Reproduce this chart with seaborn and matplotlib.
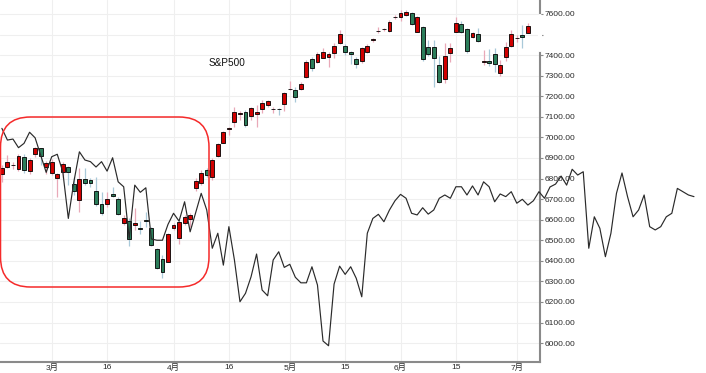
import matplotlib
matplotlib.use('Agg')
import matplotlib.pyplot as plt
import seaborn as sns
import pandas as pd
from matplotlib.patches import FancyBboxPatch

# S&P500 daily candles
opens = [6820, 6857, 6864, 6846, 6905, 6837, 6918, 6947, 6857, 6825,
         6803, 6833, 6856, 6773, 6696, 6798, 6793, 6739, 6675, 6675,
         6725, 6699, 6585, 6595, 6574, 6558, 6598, 6558, 6456, 6409,
         6396, 6558, 6512, 6585, 6602, 6752, 6780, 6841, 6806, 6910,
         6974, 7043, 7076, 7114, 7125, 7104, 7114, 7137, 7158, 7137,
         7138, 7161, 7233, 7231, 7235, 7295, 7381, 7365, 7388, 7390,
         7412, 7457, 7446, 7417, 7380, 7372, 7414, 7473, 7516, 7525,
         7519, 7583, 7584, 7595, 7606, 7514, 7538, 7441, 7438, 7352,
         7282, 7412, 7514, 7551, 7526, 7490, 7503, 7367, 7371, 7405,
         7315, 7392, 7444, 7481, 7498, 7509]
highs = [6866, 6914, 6882, 6918, 6918, 6898, 6955, 6950, 6885, 6895,
         6825, 6882, 6862, 6809, 6851, 6850, 6804, 6809, 6734, 6736,
         6760, 6712, 6622, 6608, 6657, 6593, 6639, 6566, 6461, 6428,
         6534, 6582, 6598, 6625, 6631, 6801, 6841, 6850, 6898, 6974,
         7032, 7052, 7146, 7130, 7133, 7149, 7157, 7182, 7182, 7149,
         7141, 7219, 7274, 7247, 7271, 7376, 7392, 7414, 7433, 7417,
         7457, 7522, 7453, 7420, 7392, 7441, 7454, 7482, 7538, 7530,
         7571, 7595, 7620, 7619, 7611, 7590, 7542, 7474, 7474, 7396,
         7461, 7461, 7587, 7567, 7530, 7514, 7530, 7425, 7428, 7435,
         7376, 7465, 7522, 7498, 7547, 7555]
lows = [6785, 6851, 6845, 6836, 6825, 6820, 6906, 6866, 6820, 6815,
        6710, 6801, 6768, 6720, 6637, 6768, 6760, 6665, 6623, 6663,
        6712, 6622, 6574, 6473, 6550, 6530, 6566, 6473, 6360, 6318,
        6393, 6550, 6481, 6575, 6566, 6741, 6768, 6809, 6793, 6906,
        6971, 7012, 7052, 7084, 7052, 7084, 7052, 7117, 7149, 7120,
        7109, 7128, 7230, 7174, 7230, 7290, 7323, 7360, 7385, 7344,
        7385, 7454, 7401, 7356, 7336, 7363, 7409, 7465, 7506, 7519,
        7514, 7574, 7567, 7592, 7546, 7512, 7373, 7396, 7243, 7263,
        7263, 7368, 7511, 7506, 7409, 7482, 7465, 7352, 7347, 7320,
        7298, 7373, 7441, 7465, 7433, 7506]
closes = [6851, 6882, 6867, 6911, 6841, 6890, 6947, 6911, 6877, 6882,
          6822, 6871, 6833, 6739, 6798, 6780, 6778, 6675, 6631, 6700,
          6716, 6626, 6610, 6506, 6585, 6553, 6592, 6477, 6366, 6344,
          6529, 6574, 6587, 6614, 6623, 6789, 6828, 6817, 6890, 6968,
          7028, 7045, 7125, 7117, 7060, 7141, 7122, 7169, 7177, 7139,
          7136, 7214, 7235, 7198, 7260, 7368, 7336, 7404, 7417, 7404,
          7446, 7501, 7414, 7404, 7355, 7436, 7446, 7475, 7518, 7527,
          7563, 7585, 7604, 7611, 7551, 7587, 7380, 7405, 7385, 7271,
          7396, 7433, 7558, 7511, 7422, 7506, 7470, 7369, 7360, 7357,
          7352, 7441, 7503, 7483, 7487, 7542]

# overlaid comparison line (runs past the last candle)
line_vals = [7044, 6987, 6992, 6950, 6971, 7025, 6998, 6914, 6830, 6906,
             6918, 6833, 6606, 6784, 6930, 6890, 6882, 6856, 6882, 6836,
             6901, 6784, 6760, 6509, 6768, 6733, 6755, 6506, 6500, 6500,
             6577, 6631, 6593, 6687, 6541, 6634, 6728, 6647, 6461, 6534,
             6379, 6566, 6404, 6201, 6242, 6322, 6433, 6258, 6230, 6404,
             6444, 6368, 6383, 6320, 6293, 6293, 6371, 6282, 6010, 5987,
             6287, 6374, 6334, 6371, 6315, 6225, 6534, 6606, 6626, 6590,
             6647, 6692, 6723, 6704, 6631, 6623, 6658, 6627, 6647, 6704,
             6720, 6704, 6760, 6760, 6720, 6764, 6720, 6784, 6760, 6687,
             6725, 6712, 6736, 6680, 6699, 6671, 6692, 6736, 6704, 6759,
             6773, 6812, 6768, 6845, 6817, 6833, 6461, 6614, 6558, 6420,
             6534, 6728, 6827, 6712, 6614, 6647, 6720, 6566, 6550, 6566,
             6614, 6631, 6752, 6736, 6720, 6712]

tick_idx = [9, 19, 31, 41, 52, 62, 72, 82, 93]
tick_labels = ['3月', '16', '4月', '16', '5月', '15', '6月', '15', '7月']
price_ticks = list(range(6000, 7700, 100))

sns.set_style('white')
plt.rcParams['font.family'] = ['Liberation Sans', 'Noto Sans CJK SC', 'DejaVu Sans']

fig = plt.figure(figsize=(7.06, 3.73), dpi=100)
ax = fig.add_axes([0, 11 / 373, 539.5 / 706, 362 / 373])

df = pd.DataFrame({'open': opens, 'high': highs, 'low': lows, 'close': closes})
df['idx'] = range(len(df))
up = df['close'] >= df['open']
body_low = df[['open', 'close']].min(axis=1)
body_h = (df['close'] - df['open']).abs().clip(lower=3)

# wicks
ax.vlines(df['idx'], df['low'], df['high'],
          colors=['#e9a9b8' if u else '#a9c9d9' for u in up], lw=0.9, zorder=2)
# bodies
ax.bar(df['idx'], body_h, bottom=body_low, width=0.7,
       color=['#d00000' if u else '#2b7d5a' for u in up],
       edgecolor='black', linewidth=0.6, zorder=3)

sns.lineplot(x=list(range(len(line_vals))), y=line_vals, ax=ax,
             color='#2a2a2a', linewidth=0.85, clip_on=False, zorder=4)

ax.set_xlim(-0.34, 97.1)
ax.set_ylim(5908, 7668)

ax.yaxis.tick_right()
ax.set_yticks(price_ticks)
ax.set_yticklabels(['' if v == 7500 else f'{v:.2f}' for v in price_ticks])
ax.set_xticks(tick_idx)
ax.set_xticklabels(tick_labels)
ax.set_xlabel('')
ax.set_ylabel('')

ax.grid(True, color='#efefef', linewidth=0.8)
ax.set_axisbelow(True)
for s in ['left', 'top']:
    ax.spines[s].set_visible(False)
for s in ['right', 'bottom']:
    ax.spines[s].set_color('#8a8a8a')
    ax.spines[s].set_linewidth(1.5)

ax.tick_params(axis='y', right=True, left=False, length=2.5, width=0.8,
               color='#8a8a8a', pad=1.5, labelsize=6, labelcolor='#2a2a2a')
ax.tick_params(axis='x', length=0, pad=1.5, labelsize=6, labelcolor='#2a2a2a')

# gap in the price axis line next to the hidden 7500 label
ax.plot([1, 1], [7425, 7590], transform=ax.get_yaxis_transform(),
        color='white', lw=3, clip_on=False, zorder=5)

ax.text(0.386, 0.826, 'S&P500', transform=ax.transAxes, fontsize=7.2,
        ha='left', va='center', color='#111111')

# highlight box
box = FancyBboxPatch((0.005, 0.86), 2.085, 1.70,
                     boxstyle='round,pad=0,rounding_size=0.3',
                     transform=fig.dpi_scale_trans, fill=False,
                     edgecolor='#f52a2a', linewidth=1.1)
fig.add_artist(box)

fig.savefig('out.png', dpi=100)
